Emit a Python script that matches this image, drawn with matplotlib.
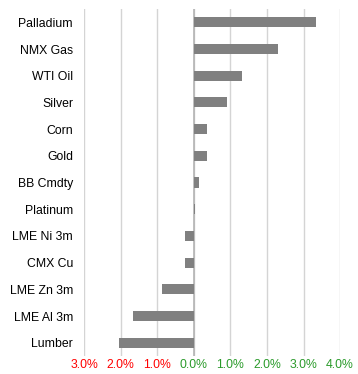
import matplotlib
matplotlib.use("Agg")
import matplotlib.pyplot as plt
import numpy as np

plt.rcParams["font.family"] = ["Liberation Sans", "DejaVu Sans"]

# 상단부터 순서대로 (성과, %)
names = ["Palladium", "NMX Gas", "WTI Oil", "Silver", "Corn", "Gold", "BB Cmdty",
         "Platinum", "LME Ni 3m", "CMX Cu", "LME Zn 3m", "LME Al 3m", "Lumber"]
values = [3.35, 2.30, 1.31, 0.92, 0.36, 0.36, 0.14,
          0.03, -0.23, -0.23, -0.86, -1.67, -2.06]
ticks = [-3, -2, -1, 0, 1, 2, 3, 4]

fig = plt.figure(figsize=(3.58, 3.74), dpi=100)
ax = fig.add_axes([0.235, 0.048, 0.715, 0.928])

y = np.arange(len(names))
ax.barh(y, values, height=0.38, color="#808080", zorder=3)

ax.set_xlim(-3, 4)
ax.set_ylim(len(names) - 0.5, -0.5)
ax.set_yticks(y)
ax.set_yticklabels(names, fontsize=8.8)
ax.set_xticks(ticks)
ax.set_xticklabels([f"{abs(t):.1f}%" for t in ticks], fontsize=8.8)
for lbl, t in zip(ax.get_xticklabels(), ticks):
    lbl.set_color("#ff0000" if t < 0 else "#2a9a2a")

ax.grid(axis="x", color="#d4d4d4", linewidth=1, zorder=0)
ax.axvline(0, color="#b4b4b4", linewidth=1.2, zorder=2)
for s in ax.spines.values():
    s.set_visible(False)
ax.tick_params(axis="x", length=0, pad=2)
ax.tick_params(axis="y", length=0, pad=8)

fig.savefig("out.png", dpi=100)
